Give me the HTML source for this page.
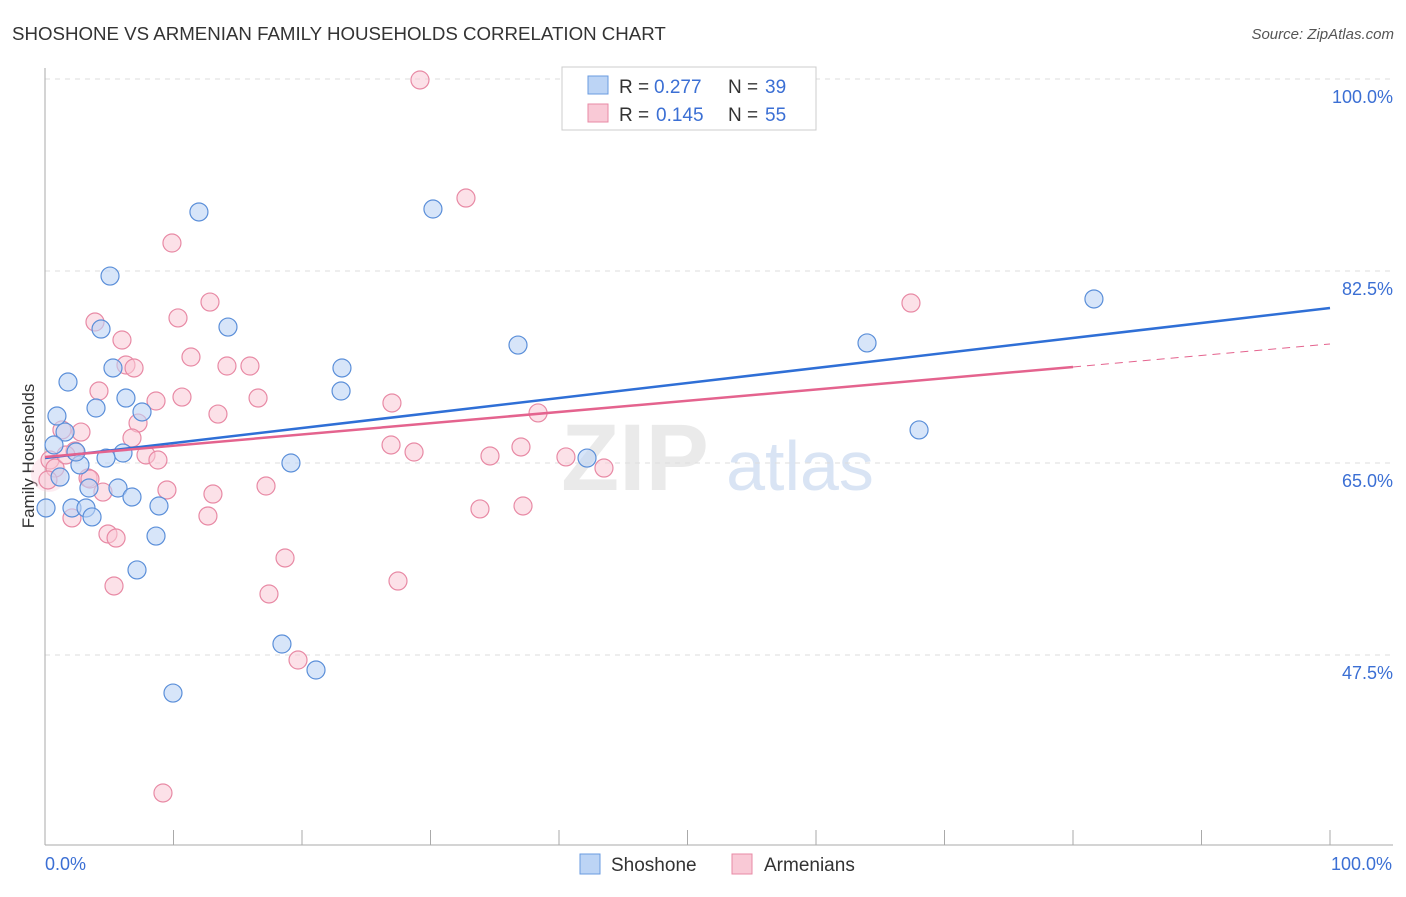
<!DOCTYPE html>
<html><head><meta charset="utf-8"><style>
body{margin:0;background:#fff;font-family:"Liberation Sans",sans-serif;}
svg text{font-family:"Liberation Sans",sans-serif;}
</style></head><body>
<svg width="1406" height="892" viewBox="0 0 1406 892" id="chart">
<text x="12" y="40" font-size="18.7" fill="#333">SHOSHONE VS ARMENIAN FAMILY HOUSEHOLDS CORRELATION CHART</text>
<text x="1394" y="39" font-size="15" fill="#555" font-style="italic" text-anchor="end">Source: ZipAtlas.com</text>
<text x="34" y="456" font-size="17" fill="#333" text-anchor="middle" transform="rotate(-90 34 456)">Family Households</text>
<g>
<text x="635" y="490" font-size="95" fill="#ddd" font-family="Liberation Serif" text-anchor="middle" font-weight="bold" opacity="0.6">ZIP</text>
<text x="800" y="490" font-size="70" fill="#c9d9f0" text-anchor="middle" opacity="0.7">atlas</text>
</g>
<g id="grid"></g><g id="axes"></g><g id="marks"></g>
<g>
<rect x="562" y="67" width="254" height="63" fill="#fff" stroke="#ccc"/>
<rect x="588" y="76" width="20" height="18" fill="#bcd4f5" stroke="#6a9be0"/>
<text x="619" y="93" font-size="19" fill="#333">R =</text>
<text x="654" y="93" font-size="19" fill="#3b6fd4">0.277</text>
<text x="728" y="93" font-size="19" fill="#333">N =</text>
<text x="765" y="93" font-size="19" fill="#3b6fd4">39</text>
<rect x="588" y="104" width="20" height="18" fill="#f9c9d6" stroke="#e88aa5"/>
<text x="619" y="121" font-size="19" fill="#333">R =</text>
<text x="656" y="121" font-size="19" fill="#3b6fd4">0.145</text>
<text x="728" y="121" font-size="19" fill="#333">N =</text>
<text x="765" y="121" font-size="19" fill="#3b6fd4">55</text>
</g>
<g>
<rect x="580" y="854" width="20" height="20" fill="#bcd4f5" stroke="#6a9be0"/>
<text x="611" y="871" font-size="19" fill="#333">Shoshone</text>
<rect x="732" y="854" width="20" height="20" fill="#f9c9d6" stroke="#e88aa5"/>
<text x="764" y="871" font-size="19" fill="#333">Armenians</text>
</g>
</svg>
<script>
const yTicks=[100,82.5,65,47.5];
const yTickLabels=["100.0%","82.5%","65.0%","47.5%"];
const xTickLabels=["0.0%","100.0%"];
const shoX=[0.93,1.79,3.97,4.36,5.06,5.29,6.30,7.55,6.07,4.75,2.72,1.17,3.42,2.10,3.19,3.66,5.68,6.77,8.87,8.64,7.16,11.98,14.24,9.96,19.14,18.44,21.09,23.11,23.04,30.19,36.81,42.18,63.97,68.02,81.63,0.08,1.56,2.41,0.70];
const shoY=[69.28,72.38,70.01,77.21,82.04,73.66,70.92,69.65,65.91,65.45,64.82,63.72,62.72,60.90,60.90,60.08,62.72,61.90,61.08,58.34,55.25,87.88,77.39,44.03,65.00,48.50,46.13,73.66,71.56,88.15,75.75,65.45,75.94,68.01,79.95,60.90,67.82,66.00,66.64];
const armX=[29.18,32.76,9.88,12.84,3.89,10.35,5.99,6.30,6.93,11.36,14.16,15.95,4.20,10.66,8.64,13.46,16.58,27.00,7.24,6.77,2.80,1.32,2.33,7.86,8.79,3.35,3.50,4.51,9.49,13.07,17.20,12.68,2.10,4.90,5.53,5.37,18.68,17.43,27.47,19.69,9.18,26.93,28.72,34.63,37.04,40.54,43.50,33.85,37.20,38.37,67.39,0.39,0.78,0.23,1.63];
const armY=[99.91,89.15,85.05,79.67,77.85,78.22,76.21,73.93,73.66,74.66,73.84,73.84,71.56,71.01,70.65,69.46,70.92,70.47,68.64,67.28,67.82,68.01,66.09,65.73,65.27,63.63,63.54,62.35,62.54,62.17,62.90,60.17,59.99,58.53,58.16,53.79,56.34,53.06,54.24,47.04,34.92,66.64,66.00,65.64,66.46,65.55,64.54,60.81,61.08,69.56,79.58,65.27,64.54,63.45,65.73];
const shoLine=[[0,65.45],[100,79.13]];
const armLine=[[0,65.55],[80,73.75]];
const armDash=[[80,73.75],[100,75.85]];
const NS="http://www.w3.org/2000/svg";
const xs=v=>45+v*12.85, ys=v=>79+(100-v)*10.971;
function mk(tag,attrs,parent){const e=document.createElementNS(NS,tag);for(const k in attrs)e.setAttribute(k,attrs[k]);document.getElementById(parent).appendChild(e);return e;}
yTicks.forEach((t,i)=>{
 const g=mk('line',{x1:45,x2:1393,y1:ys(t),y2:ys(t),stroke:'#ddd','stroke-dasharray':'5,5'},'grid');
 
 
 const l=mk('text',{x:1393,y:ys(t)+24,'font-size':18,fill:'#3b6fd4','text-anchor':'end'},'axes');
 l.textContent=yTickLabels[i];
 
 
});
const ax=mk('line',{x1:45,x2:45,y1:68,y2:845,stroke:'#aaa'},'axes');


const bx=mk('line',{x1:45,x2:1393,y1:845,y2:845,stroke:'#aaa'},'axes');


for(let i=0;i<=10;i++){const t=mk('line',{x1:xs(i*10),x2:xs(i*10),y1:830,y2:845,stroke:'#aaa'},'axes');
 
 }
[[0,'start'],[100,'end']].forEach((p,i)=>{const l=mk('text',{x:xs(p[0])+(i?62:0),y:870,'font-size':18,fill:'#3b6fd4','text-anchor':p[1]},'axes');
 l.textContent=xTickLabels[i];
 
 });
const big=mk('circle',{cx:xs(0.3),cy:ys(64),r:18,fill:'#f9c9d6','fill-opacity':0.35},'marks');


armX.forEach((x,i)=>{const c=mk('circle',{cx:xs(x),cy:ys(armY[i]),r:9,fill:'#f9c9d6','fill-opacity':0.55,stroke:'#e88aa5','stroke-width':1.2},'marks');
 
 });
shoX.forEach((x,i)=>{const c=mk('circle',{cx:xs(x),cy:ys(shoY[i]),r:9,fill:'#bcd4f5','fill-opacity':0.6,stroke:'#5b8fd9','stroke-width':1.2},'marks');
 
 });
const l1=mk('line',{x1:xs(shoLine[0][0]),y1:ys(shoLine[0][1]),x2:xs(shoLine[1][0]),y2:ys(shoLine[1][1]),stroke:'#2f6fd6','stroke-width':2.5},'marks');


const l2=mk('line',{x1:xs(armLine[0][0]),y1:ys(armLine[0][1]),x2:xs(armLine[1][0]),y2:ys(armLine[1][1]),stroke:'#e4638e','stroke-width':2.5},'marks');


const l3=mk('line',{x1:xs(armDash[0][0]),y1:ys(armDash[0][1]),x2:xs(armDash[1][0]),y2:ys(armDash[1][1]),stroke:'#e4638e','stroke-width':1,'stroke-dasharray':'8,6'},'marks');


</script>
</body></html>
